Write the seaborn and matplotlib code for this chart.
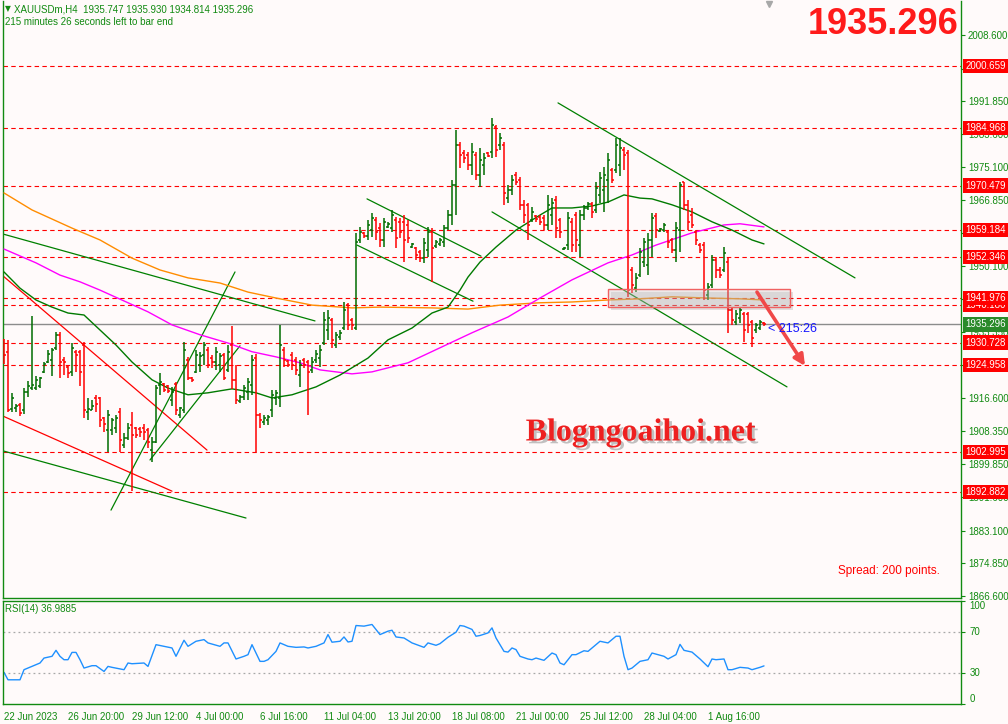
import numpy as np
import matplotlib
matplotlib.use("Agg")
import matplotlib.pyplot as plt
import matplotlib.patheffects as pe
from matplotlib.patches import Rectangle
import seaborn as sns

sns.set_theme(style="white")
plt.rcParams['font.family'] = ['Liberation Sans', 'DejaVu Sans']

# ---------------- data (XAUUSDm, H4) ----------------
opens = [1931.4,1928.4,1913.9,1914.2,1914.9,1913.7,1918.2,1919.2,1919.2,1919.7,
         1923.3,1925.8,1926.3,1929.4,1932.7,1926.3,1924.6,1923.3,1928.4,1928.4,
         1930.1,1913.2,1913.7,1916.7,1916.7,1911.6,1908.6,1908.6,1909.1,1913.2,
         1904.8,1906.6,1909.9,1909.1,1908.8,1909.1,1908.6,1903.5,1905.6,1920.0,
         1920.3,1919.7,1916.2,1920.3,1912.4,1913.7,1926.3,1921.8,1923.3,1925.1,
         1927.6,1928.9,1926.8,1925.8,1925.1,1927.6,1923.8,1930.1,1921.3,1915.9,
         1916.9,1918.2,1920.0,1926.8,1912.4,1910.6,1911.1,1913.7,1916.7,1916.7,
         1928.9,1926.1,1927.6,1926.3,1922.5,1926.3,1925.8,1923.8,1926.3,1926.8,
         1930.6,1933.9,1936.5,1930.1,1932.2,1934.4,1940.2,1936.5,1934.4,1956.7,
         1958.5,1957.7,1959.2,1961.8,1959.7,1956.7,1960.0,1959.7,1961.8,1961.3,
         1961.3,1960.5,1954.9,1954.7,1953.7,1952.1,1954.2,1958.7,1955.2,1955.7,
         1956.2,1959.7,1963.0,1970.6,1980.8,1978.7,1978.2,1975.7,1978.2,1973.2,
         1975.7,1978.7,1979.0,1985.3,1980.8,1980.8,1967.3,1969.4,1973.2,1971.9,
         1965.6,1965.6,1961.8,1962.8,1962.5,1962.3,1960.5,1963.0,1966.8,1961.8,
         1954.4,1955.4,1961.3,1963.0,1955.4,1963.0,1964.8,1965.8,1964.3,1968.1,
         1969.4,1971.9,1974.4,1974.4,1975.7,1979.5,1978.7,1949.1,1944.5,1947.8,
         1951.1,1950.4,1956.7,1962.8,1959.0,1959.2,1958.7,1956.7,1954.2,1959.2,
         1971.4,1965.6,1963.0,1958.7,1955.4,1955.4,1942.8,1945.3,1951.6,1949.1,
         1949.1,1951.1,1939.0,1936.0,1936.9,1938.0,1938.0,1936.0,1933.9,1934.4,
         1935.747]
highs = [1931.6,1931.4,1918.0,1915.2,1915.4,1919.2,1921.0,1937.5,1922.3,1922.0,
         1925.8,1928.8,1929.4,1933.4,1933.4,1927.1,1925.1,1930.6,1928.9,1928.9,
         1930.9,1916.7,1916.2,1917.5,1917.0,1911.9,1913.7,1911.6,1912.4,1914.2,
         1907.8,1910.4,1913.2,1909.4,1909.4,1910.1,1909.1,1906.8,1920.0,1923.0,
         1920.5,1920.0,1919.5,1920.8,1914.4,1930.9,1927.1,1922.0,1928.9,1928.4,
         1930.9,1929.6,1927.6,1929.6,1928.1,1928.1,1930.1,1934.9,1925.1,1917.5,
         1920.0,1921.8,1927.6,1927.8,1912.9,1912.4,1912.4,1918.7,1918.7,1935.2,
         1929.6,1926.3,1928.4,1927.1,1926.3,1926.8,1926.3,1927.1,1928.9,1930.1,
         1938.5,1939.0,1937.0,1933.4,1933.9,1941.0,1940.8,1937.0,1958.5,1960.0,
         1958.7,1961.8,1963.5,1962.5,1961.0,1962.3,1961.3,1964.3,1962.5,1962.3,
         1963.0,1961.8,1956.0,1954.9,1954.2,1957.2,1960.0,1959.7,1956.7,1957.2,
         1960.5,1964.3,1971.9,1984.5,1981.5,1979.5,1979.0,1981.3,1979.0,1980.0,
         1978.7,1979.0,1987.6,1985.8,1983.8,1981.5,1970.6,1973.2,1973.9,1972.7,
         1966.8,1966.1,1965.1,1963.0,1963.0,1963.0,1968.1,1967.3,1967.8,1962.3,
         1954.9,1963.8,1962.3,1963.8,1964.3,1965.6,1966.3,1966.3,1971.4,1973.9,
         1975.2,1978.7,1974.9,1982.5,1982.5,1980.3,1979.5,1949.9,1948.4,1954.7,
         1957.2,1958.5,1963.5,1963.5,1959.7,1961.0,1959.2,1957.2,1961.3,1971.4,
         1971.4,1966.8,1964.8,1959.2,1955.9,1956.2,1945.8,1952.9,1952.4,1949.9,
         1954.9,1952.1,1939.5,1939.0,1939.5,1938.5,1938.5,1936.5,1935.7,1936.5,
         1935.930]
lows = [1925.3,1913.2,1913.2,1913.2,1912.1,1912.6,1916.9,1918.7,1918.7,1919.2,
        1923.0,1925.6,1922.3,1928.9,1921.8,1922.5,1921.8,1922.3,1923.3,1919.7,
        1911.6,1911.1,1913.7,1913.2,1909.4,1908.1,1903.0,1907.3,1907.8,1903.0,
        1904.0,1906.1,1893.2,1906.6,1906.8,1906.1,1904.0,1900.5,1905.3,1917.5,
        1918.2,1918.0,1914.7,1912.4,1911.6,1912.9,1921.3,1920.8,1923.0,1923.3,
        1925.1,1924.3,1924.3,1923.8,1923.3,1921.3,1923.3,1918.9,1915.2,1915.4,
        1916.2,1916.2,1917.5,1903.0,1909.1,1909.9,1909.9,1911.9,1914.9,1914.4,
        1924.6,1924.6,1923.8,1922.5,1919.5,1924.3,1912.4,1923.0,1925.6,1924.6,
        1930.1,1931.4,1929.4,1929.4,1931.4,1933.9,1933.9,1933.9,1933.9,1956.0,
        1957.2,1956.7,1957.5,1956.7,1954.9,1954.9,1959.7,1958.7,1954.7,1957.2,
        1951.1,1956.0,1954.7,1951.6,1951.1,1950.9,1952.4,1946.1,1954.7,1955.2,
        1954.9,1959.2,1960.5,1963.0,1974.9,1976.2,1974.4,1973.2,1971.9,1970.1,
        1973.2,1977.7,1977.5,1977.7,1979.5,1965.6,1966.1,1968.1,1970.6,1964.3,
        1961.0,1956.7,1961.3,1961.3,1960.5,1959.2,1959.2,1960.5,1957.2,1957.2,
        1954.2,1954.2,1953.7,1953.7,1952.4,1961.8,1964.3,1962.3,1963.5,1966.1,
        1963.8,1966.1,1971.1,1973.7,1972.9,1974.4,1942.3,1943.3,1943.5,1947.3,
        1949.9,1947.8,1952.4,1957.2,1958.7,1958.7,1954.7,1953.4,1951.1,1953.7,
        1964.3,1959.2,1959.7,1955.4,1953.4,1941.5,1941.5,1944.5,1947.1,1947.1,
        1948.6,1933.2,1935.2,1935.2,1935.7,1930.9,1933.2,1929.6,1933.2,1933.9,
        1934.814]
closes = [1927.6,1913.7,1916.7,1914.7,1912.9,1918.2,1919.7,1920.0,1921.3,1921.8,
          1925.3,1927.8,1928.9,1932.7,1925.8,1925.8,1923.0,1929.4,1927.6,1923.3,
          1913.7,1913.9,1914.7,1915.2,1911.1,1910.1,1912.4,1911.1,1911.6,1906.1,
          1906.6,1909.1,1907.3,1907.3,1908.1,1908.1,1905.6,1905.6,1919.2,1920.8,
          1918.7,1918.5,1918.2,1913.7,1914.2,1928.9,1921.8,1921.3,1927.6,1927.3,
          1930.1,1925.1,1925.8,1928.4,1927.3,1921.8,1928.4,1921.3,1916.2,1916.9,
          1919.2,1920.8,1926.3,1912.4,1911.1,1911.6,1911.9,1917.5,1918.0,1930.1,
          1926.3,1925.1,1925.1,1923.8,1925.1,1925.1,1923.3,1925.8,1927.8,1928.9,
          1936.5,1937.0,1931.4,1932.7,1933.2,1939.0,1935.2,1935.2,1956.2,1958.7,
          1957.7,1960.5,1962.3,1958.7,1956.7,1961.3,1960.8,1963.0,1957.2,1958.7,
          1956.7,1957.2,1955.7,1952.9,1952.1,1956.0,1958.7,1954.7,1956.2,1956.7,
          1959.7,1963.0,1970.6,1980.8,1978.2,1977.5,1975.7,1979.0,1973.2,1977.0,
          1977.5,1978.0,1985.8,1979.5,1982.5,1968.6,1969.4,1971.9,1971.4,1965.6,
          1963.0,1960.5,1963.8,1962.0,1961.3,1960.5,1965.6,1966.1,1959.7,1958.7,
          1954.7,1962.3,1955.4,1956.7,1963.0,1964.8,1965.8,1963.8,1969.9,1972.4,
          1973.2,1977.0,1971.9,1980.8,1980.0,1978.2,1944.0,1945.3,1947.1,1953.7,
          1956.2,1956.7,1962.3,1959.2,1959.5,1960.5,1956.2,1954.2,1959.7,1970.6,
          1965.6,1961.3,1960.5,1956.7,1954.2,1944.0,1944.8,1951.6,1949.1,1947.8,
          1953.4,1939.0,1936.5,1938.0,1939.0,1933.9,1935.2,1931.9,1935.2,1936.0,
          1935.296]

# moving averages read at sample bars
ma_fast_idx = [0, 4, 8, 12, 16, 20, 24, 28, 32, 37, 41, 46, 51, 57, 63, 67, 72, 78, 84, 91, 96,
               102, 107, 111, 114, 116, 119, 123, 128, 134, 137, 142, 147, 151, 155, 159, 162,
               167, 172, 177, 182, 187, 190]
ma_fast_val = [1948.6, 1944.5, 1941.5, 1939.7, 1938.2, 1937.7, 1933.9, 1930.1, 1925.8, 1921.3,
               1919.2, 1917.5, 1918.0, 1919.0, 1918.0, 1916.7, 1917.5, 1919.5, 1922.5, 1926.8,
               1931.4, 1934.4, 1938.2, 1939.7, 1944.0, 1947.3, 1951.1, 1954.9, 1959.2, 1963.0,
               1964.8, 1964.8, 1965.3, 1966.3, 1968.1, 1967.3, 1967.1, 1965.6, 1963.8, 1961.3,
               1959.2, 1956.7, 1955.7]
ma_mid_idx = [0, 8, 14, 19, 24, 31, 36, 42, 49, 56, 62, 68, 74, 79, 87, 92, 101, 109, 117, 126,
              134, 142, 151, 157, 163, 172, 180, 184, 190]
ma_mid_val = [1954.4, 1950.9, 1947.8, 1946.1, 1944.0, 1940.8, 1938.5, 1935.2, 1932.7, 1930.6,
              1928.4, 1927.1, 1925.6, 1923.8, 1922.8, 1923.3, 1925.6, 1929.4, 1933.2, 1937.2,
              1942.0, 1946.6, 1950.9, 1952.9, 1955.4, 1958.5, 1960.5, 1960.8, 1960.0]
ma_slow_idx = [0, 7, 17, 24, 32, 39, 46, 54, 61, 68, 77, 87, 94, 107, 116, 124, 134, 142, 151,
               159, 167, 176, 184, 190]
ma_slow_val = [1968.6, 1964.3, 1959.7, 1956.7, 1952.1, 1949.1, 1947.1, 1945.8, 1943.5, 1942.0,
               1940.2, 1939.5, 1939.7, 1939.5, 1939.2, 1940.2, 1940.8, 1941.0, 1941.5, 1941.8,
               1942.3, 1942.0, 1941.8, 1941.5]

# RSI(14) read at sample bars
rsi_idx = [0, 1, 4, 5, 7, 9, 10, 12, 13, 14, 15, 16, 17, 18, 19, 20, 22, 23, 25, 26, 27, 30, 31,
           32, 35, 36, 38, 40, 42, 43, 45, 46, 48, 50, 51, 54, 55, 56, 58, 60, 61, 62, 64, 65,
           66, 68, 69, 71, 73, 75, 76, 78, 80, 81, 82, 84, 85, 86, 87, 88, 90, 92, 94, 96, 97,
           98, 100, 102, 105, 106, 108, 109, 111, 113, 114, 115, 117, 118, 119, 121, 122, 123,
           125, 126, 127, 128, 129, 131, 132, 133, 135, 137, 138, 139, 140, 142, 143, 145, 146,
           148, 149, 151, 153, 154, 155, 156, 157, 159, 161, 162, 165, 166, 168, 169, 170, 172,
           174, 176, 177, 178, 180, 181, 182, 184, 186, 187, 189, 190]
rsi_val = [30.7, 23.5, 23.5, 33.3, 36.5, 39.8, 44.6, 46.3, 52.1, 46.3, 43.0, 43.0, 50.1, 50.1,
           43.0, 34.9, 37.2, 37.2, 31.6, 36.5, 35.6, 33.3, 39.8, 39.1, 39.8, 36.5, 57.6, 56.0,
           54.4, 46.3, 61.9, 56.0, 60.9, 62.5, 59.3, 56.0, 59.3, 59.3, 43.7, 46.3, 47.9, 57.6,
           41.4, 41.4, 43.0, 51.1, 59.3, 56.0, 55.0, 55.4, 54.4, 56.0, 59.3, 67.4, 60.0, 60.9,
           65.1, 60.2, 60.9, 76.2, 75.6, 77.2, 67.4, 70.7, 71.6, 65.1, 64.1, 59.3, 55.0, 59.3,
           57.0, 58.6, 64.8, 69.7, 76.2, 75.6, 72.4, 65.8, 66.5, 69.0, 73.9, 64.1, 51.1, 50.4,
           54.4, 52.8, 46.3, 43.7, 43.0, 44.6, 42.4, 49.5, 47.9, 39.8, 38.1, 47.9, 47.9, 51.7,
           51.1, 57.6, 60.9, 59.3, 65.8, 65.8, 46.3, 33.3, 34.9, 41.4, 43.0, 49.5, 46.3, 43.7,
           47.9, 57.9, 52.1, 50.4, 43.7, 36.2, 43.7, 43.0, 43.7, 33.3, 33.3, 35.6, 34.9, 33.3,
           35.6, 36.99]

# horizontal support / resistance levels and current price
levels = [2000.659, 1984.968, 1970.479, 1959.184, 1952.346, 1940.180, 1941.976,
          1930.728, 1924.958, 1902.995, 1892.882]
last_price = 1935.296
price_ticks = [2008.6, 2000.1, 1991.85, 1983.6, 1975.1, 1966.85, 1958.35, 1950.1, 1941.85,
               1933.35, 1925.1, 1916.6, 1908.35, 1899.85, 1891.6, 1883.1, 1874.85, 1866.6]
hidden_ticks = [2000.1, 1941.85, 1925.1]   # fully covered by level labels in the reference

# drawn trend lines: (bar0, price0, bar1, price1, colour)
trendlines = [
    (-0.25, 1958.2, 77.75, 1936.2, 'g'),
    (-0.25, 1947.6, 50.75, 1903.5, 'r'),
    (-0.25, 1912.1, 42.0, 1893.1, 'r'),
    (-0.25, 1903.3, 60.5, 1886.3, 'g'),
    (26.75, 1888.3, 57.75, 1948.6, 'g'),
    (36.5, 1901.0, 59.0, 1929.9, 'g'),
    (90.75, 1967.1, 119.25, 1952.6, 'g'),
    (88.25, 1955.4, 117.25, 1941.2, 'g'),
    (138.5, 1991.4, 212.75, 1947.1, 'g'),
    (122.0, 1963.8, 195.75, 1919.5, 'g'),
]
zone = (151.0, 1939.7, 196.5, 1944.3)           # bar0, price_low, bar1, price_high
arrow = (188.25, 1943.5, 200.25, 1924.8)         # bar0, price0, bar1, price1

xtick_idx = [0, 16, 32, 48, 64, 80, 96, 112, 128, 144, 160, 176]
xtick_lab = ['22 Jun 2023', '26 Jun 20:00', '29 Jun 12:00', '4 Jul 00:00', '6 Jul 16:00',
             '11 Jul 04:00', '13 Jul 20:00', '18 Jul 08:00', '21 Jul 00:00', '25 Jul 12:00',
             '28 Jul 04:00', '1 Aug 16:00']

# ---------------- style ----------------
BG = '#fffafa'
FG = '#118a11'
UP = '#006d00'
DN = '#ff0000'
W, H = 1008, 724

def rect(x0, y0, x1, y1):
    return [x0 / W, 1 - y1 / H, (x1 - x0) / W, (y1 - y0) / H]

fig = plt.figure(figsize=(W / 100, H / 100), dpi=100, facecolor=BG)
ax = fig.add_axes(rect(3, 1, 961, 598), facecolor=BG)
axr = fig.add_axes(rect(3, 601, 961, 704), facecolor=BG)

XLIM = (-0.25, 239.25)
ax.set_xlim(*XLIM)
ax.set_ylim(1866.05, 2017.2)
axr.set_xlim(*XLIM)
axr.set_ylim(0, 100)

for a in (ax, axr):
    for s in a.spines.values():
        s.set_color(FG)
        s.set_linewidth(1.0)
    a.grid(False)
ax.spines['top'].set_visible(False)

# levels
for lv in levels:
    ax.axhline(lv, color='#ff0000', lw=0.8, ls=(0, (4, 3)), zorder=1)
ax.axhline(last_price, color='#8c8c8c', lw=1.0, zorder=1)

# trend lines
for x0, y0, x1, y1, c in trendlines:
    ax.plot([x0, x1], [y0, y1], color='#008000' if c == 'g' else '#ff0000', lw=0.9, zorder=2)

# moving averages
sns.lineplot(x=ma_slow_idx, y=ma_slow_val, ax=ax, color='#ff8c00', lw=1.0, estimator=None, legend=False, zorder=3)
sns.lineplot(x=ma_mid_idx, y=ma_mid_val, ax=ax, color='#ff00ff', lw=1.0, estimator=None, legend=False, zorder=3)
sns.lineplot(x=ma_fast_idx, y=ma_fast_val, ax=ax, color='#007a00', lw=1.0, estimator=None, legend=False, zorder=3)

# OHLC bars
idx = np.arange(len(opens))
cols = [UP if c >= o else DN for o, c in zip(opens, closes)]
ax.vlines(idx, lows, highs, colors=cols, lw=1.1, zorder=4)
ax.hlines(opens, idx - 0.55, idx, colors=cols, lw=1.1, zorder=4)
ax.hlines(closes, idx, idx + 0.55, colors=cols, lw=1.1, zorder=4)

# zone rectangle + arrow
zb0, zlo, zb1, zhi = zone
ax.add_patch(Rectangle((zb0, zlo), zb1 - zb0, zhi - zlo, fc=(0.8, 0.8, 0.8, 0.35),
                       ec='#f06262', lw=1.0, zorder=5,
                       path_effects=[pe.withSimplePatchShadow(offset=(2, -2), alpha=0.15)]))
ax0, ay0, ax1, ay1 = arrow
ax.annotate('', xy=(ax1, ay1), xytext=(ax0, ay0),
            arrowprops=dict(arrowstyle='-|>', color='#f04848', lw=2.6, mutation_scale=16,
                            shrinkA=0, shrinkB=0), zorder=6)

# right price axis
ax.yaxis.tick_right()
ax.set_yticks(price_ticks)
ax.set_yticklabels(['' if t in hidden_ticks else f'{t:.3f}' for t in price_ticks])
ax.tick_params(axis='y', direction='out', length=3, width=0.8, colors=FG, labelsize=7, pad=2)
ax.set_xticks([])
ax.set_xlabel('')
ax.set_ylabel('')

ytr = ax.get_yaxis_transform()
for lv in levels:
    ax.text(1.0045, lv, f'{lv:.3f}', transform=ytr, color='white', fontsize=7, va='center',
            ha='left', clip_on=False, zorder=10,
            bbox=dict(boxstyle='square,pad=0.22', fc='#ff0000', ec='none'))
ax.text(1.0045, last_price, f'{last_price:.3f}', transform=ytr, color='white', fontsize=7,
        va='center', ha='left', clip_on=False, zorder=11,
        bbox=dict(boxstyle='square,pad=0.22', fc='#2a8a2a', ec='none'))

# chart-shift marker
ax.plot([191.25], [2016.4], marker='v', color='#a8a8a8', ms=5, clip_on=False, zorder=6)

# RSI panel
for lvl in (70, 30):
    axr.axhline(lvl, color='#a8a8a8', lw=0.9, ls=(0, (1.5, 2.5)))
sns.lineplot(x=rsi_idx, y=rsi_val, ax=axr, color='#1e90ff', lw=1.0, estimator=None, legend=False)
axr.yaxis.tick_right()
axr.set_yticks([0, 30, 70, 100])
axr.set_yticklabels([])
axr.tick_params(axis='y', direction='out', length=3, width=0.8, colors=FG)
rtr = axr.get_yaxis_transform()
for v, va in ((100, 'top'), (70, 'center'), (30, 'center'), (0, 'bottom')):
    axr.text(1.009, v, str(v), transform=rtr, color=FG, fontsize=7, va=va, ha='left', clip_on=False)
axr.set_xticks(xtick_idx)
axr.set_xticklabels(xtick_lab, ha='left')
axr.tick_params(axis='x', direction='out', length=4, width=0.8, colors=FG, labelsize=7, pad=1.5)
axr.set_xlabel('')
axr.set_ylabel('')

# texts
fig.text(5 / W, 1 - 9 / H, '▼', color=FG, fontsize=5.5, va='center', ha='left',
         family=['DejaVu Sans'])
fig.text(14 / W, 1 - 9 / H, 'XAUUSDm,H4  1935.747 1935.930 1934.814 1935.296', color=FG,
         fontsize=7, va='center', ha='left')
fig.text(5 / W, 1 - 22 / H, '215 minutes 26 seconds left to bar end', color=FG, fontsize=7,
         va='center', ha='left')
fig.text(5 / W, 1 - 609 / H, 'RSI(14) 36.9885', color=FG, fontsize=7, va='center', ha='left')
fig.text(883 / W, 1 - 24 / H, '1935.296', color='#ff1a1a', fontsize=26, weight='bold',
         va='center', ha='center')
fig.text(940 / W, 1 - 571 / H, 'Spread: 200 points.', color='#ff0000', fontsize=8.5,
         va='center', ha='right')
fig.text(768 / W, 1 - 329 / H, '< 215:26', color='#1515ff', fontsize=9, va='center', ha='left')
fig.text(641 / W, 1 - 433 / H, 'Blogngoaihoi.net', color='#ee2020', fontsize=23,
         weight='bold', family=['Liberation Serif'], va='center', ha='center',
         path_effects=[pe.withSimplePatchShadow(offset=(2, -2), shadow_rgbFace='#999999', alpha=0.6)])

fig.savefig('out.png', dpi=100, facecolor=BG)
